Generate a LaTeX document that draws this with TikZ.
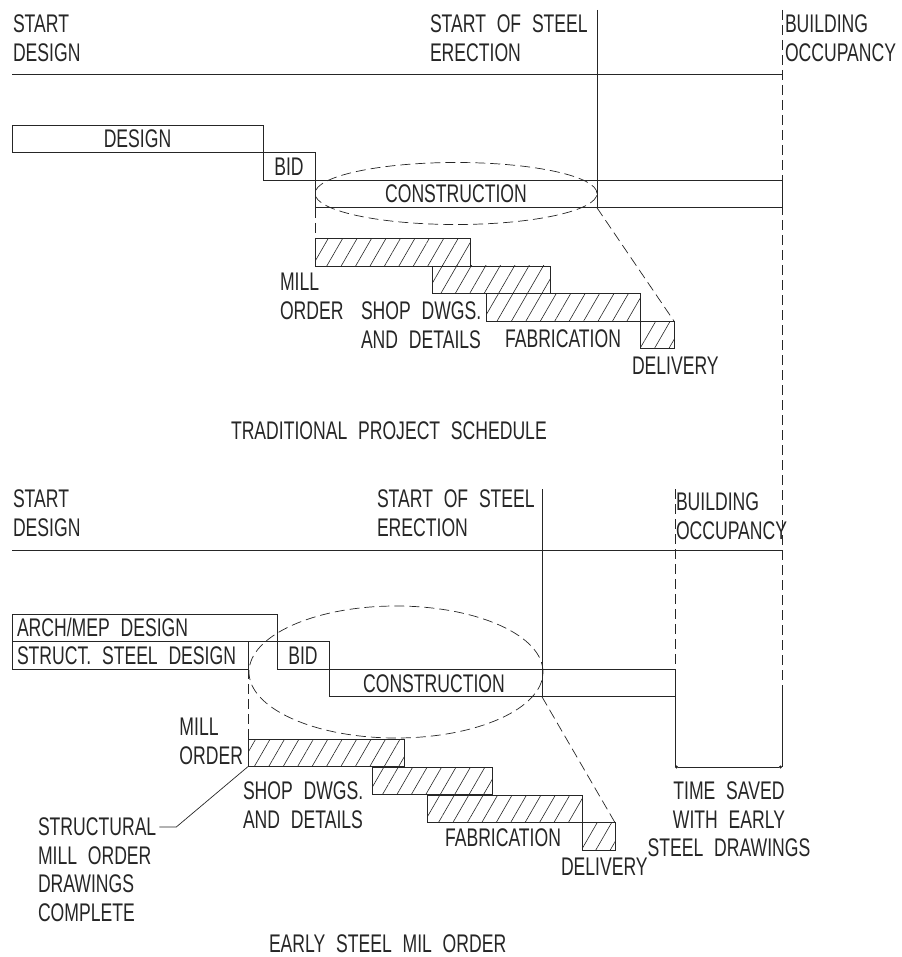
\documentclass[tikz,border=0pt]{standalone}
\usepackage{fontspec}
\setmainfont{Liberation Sans}[FakeStretch=0.69,WordSpace=2.2]
\usetikzlibrary{arrows.meta,positioning,shapes.geometric,patterns.meta}
\colorlet{ink}{black!85}
\newcommand\cadfont{\fontsize{25.5}{28.5}\selectfont}
\tikzset{
bar/.style={draw=ink,line width=.7pt,anchor=north west,inner sep=0pt,outer sep=0pt,minimum height=27.6pt,font=\cadfont,text=ink},
hatchbar/.style={bar,pattern={Lines[angle=60,distance=12.5pt,line width=.6pt]},pattern color=ink},
lbl/.style={inner sep=0pt,outer sep=0pt,align=left,font=\cadfont,text=ink},
rule/.style={draw=ink,line width=.7pt},
dashedline/.style={draw=ink,line width=.7pt,dash pattern=on 10pt off 5pt},
focus/.style={ellipse,dashedline,inner sep=0pt,outer sep=0pt}
}

\begin{document}
\begin{tikzpicture}[x=1pt,y=-1pt]
\useasboundingbox (0,0) rectangle (901,957);

\node[lbl,anchor=north west] (startA) at (13,15) {START\\DESIGN};
\node[lbl,anchor=north west] (steelA) at (430,15) {START OF STEEL\\ERECTION};
\node[lbl,anchor=north west] (occA) at (785,15) {BUILDING\\OCCUPANCY};
\coordinate (erectA) at (597,10);
\coordinate (occTop) at (782,10);
\draw[rule] (12,74) -- (782,74);

\node[bar,minimum width=251pt] (designA) at (12,125) {DESIGN};
\node[bar,minimum width=52pt] (bidA) at (designA.south east) {BID};
\node[bar,minimum width=467pt] (constrA) at (bidA.south east) {};
\node[focus,minimum width=282pt,minimum height=62pt,font=\cadfont,text=ink] (focusA) at (456,193.5) {CONSTRUCTION};
\node[hatchbar,minimum width=155pt] (millA) at (315,238.5) {};
\node[hatchbar,minimum width=118pt] (shopA) at (432,266) {};
\node[hatchbar,minimum width=154pt] (fabA) at (486,293.5) {};
\node[hatchbar,minimum width=34pt] (delivA) at (fabA.south east) {};

\node[lbl,anchor=north west] (millAl) at (280,273) {MILL\\ORDER};
\node[lbl,anchor=north west] (shopAl) at (361,302) {SHOP DWGS.\\AND DETAILS};
\node[lbl,anchor=north west] (fabAl) at (505,330) {FABRICATION};
\node[lbl,anchor=north west] (delivAl) at (632,357) {DELIVERY};
\node[lbl,anchor=north west] (titleA) at (231,422) {TRADITIONAL PROJECT SCHEDULE};

\draw[rule] (erectA) -- (erectA |- constrA.south);
\draw[dashedline] (occTop) -- (782,695);
\draw[dashedline] (constrA.south west) -- (millA.north west);
\draw[dashedline] (erectA |- constrA.south) -- (delivA.north east);

\node[lbl,anchor=north west] (startB) at (13,490) {START\\DESIGN};
\node[lbl,anchor=north west] (steelB) at (377,490) {START OF STEEL\\ERECTION};
\node[lbl,anchor=north west] (occB) at (676,493) {BUILDING\\OCCUPANCY};
\coordinate (erectB) at (542,489);
\coordinate (occTopB) at (675,489);
\draw[rule] (12,550) -- (782,550);

\node[bar,minimum width=265pt] (archB) at (12,614) {};
\node[lbl,anchor=west] (archBl) at ([xshift=5pt]archB.west) {ARCH/MEP DESIGN};
\node[bar,minimum width=236pt] (structB) at (archB.south west) {};
\node[lbl,anchor=west] (structBt) at ([xshift=5pt]structB.west) {STRUCT. STEEL DESIGN};
\node[bar,minimum width=52pt] (bidB) at (archB.south east) {BID};
\node[bar,minimum width=346pt] (constrB) at (bidB.south east) {};
\node[lbl] (constrBl) at (434,683.5) {CONSTRUCTION};
\node[focus,minimum width=294pt,minimum height=132pt] (focusB) at (396,672) {};
\node[hatchbar,minimum width=156pt] (millB) at (248,739) {};
\node[hatchbar,minimum width=120pt] (shopB) at (372,767) {};
\node[hatchbar,minimum width=155pt] (fabB) at (427,795) {};
\node[hatchbar,minimum width=33pt] (delivB) at (fabB.south east) {};

\node[lbl,anchor=north east] (millBl) at (243,718) {MILL\\ORDER};
\node[lbl,anchor=north west] (shopBl) at (243,782) {SHOP DWGS.\\AND DETAILS};
\node[lbl,anchor=north west] (structBl) at (38,818) {STRUCTURAL\\MILL ORDER\\DRAWINGS\\COMPLETE};
\node[lbl,anchor=north west] (fabBl) at (445,829) {FABRICATION};
\node[lbl,anchor=north west] (delivBl) at (561,858) {DELIVERY};
\node[lbl,anchor=north,align=center] (savedBl) at (729,782) {TIME SAVED\\WITH EARLY\\STEEL DRAWINGS};
\node[lbl,anchor=north west] (titleB) at (269,935) {EARLY STEEL MIL ORDER};

\draw[rule] (erectB) -- (erectB |- constrB.south);
\draw[dashedline] (occTopB) -- (constrB.south east);
\draw[rule] (constrB.south east) -- (675,767) coordinate (savedL);
\draw[rule] (782,695) -- (782,767) coordinate (savedR);
\draw[rule,{Circle[length=3pt]}-{Circle[length=3pt]}] (savedL) -- (savedR);
\draw[dashedline] (structB.south east) -- (millB.north west);
\draw[dashedline] (erectB |- constrB.south) -- (delivB.north east);
\draw[rule] ([shift={(3,9)}]structBl.north east) -- ++(17,0) -- (millB.south west);
\end{tikzpicture}
\end{document}
